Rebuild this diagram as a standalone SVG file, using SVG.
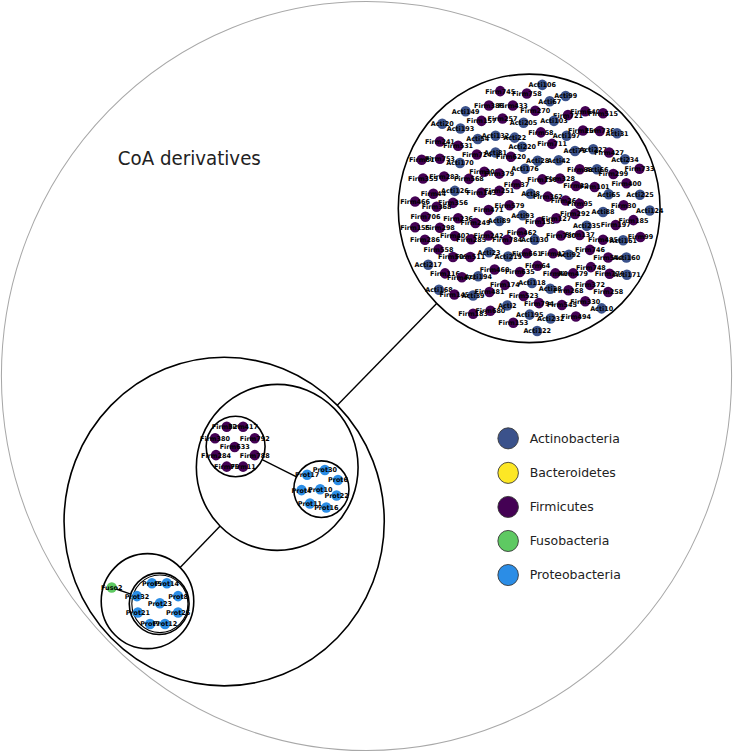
<svg xmlns="http://www.w3.org/2000/svg" width="733" height="752" viewBox="0 0 733 752">
<style>
.bg{fill:#ffffff}
.outer{fill:none;stroke:#a8a8a8;stroke-width:2.2}
.cl{fill:none;stroke:#000;stroke-width:3.4}
.e{stroke:#000;stroke-width:3;fill:none}
.a{fill:#3b528b}
.f{fill:#440154}
.p{fill:#2b8de6}
.u{fill:#5ec962}
.y{fill:#fde725}
.n text{font-family:"DejaVu Sans","Liberation Sans",sans-serif;font-weight:bold;font-size:13.8px;text-anchor:middle;fill:#000}
.lg circle{stroke:#333;stroke-width:1.8}
.lg text{font-family:"DejaVu Sans","Liberation Sans",sans-serif;font-size:26.7px;fill:#222}
.title{font-family:"DejaVu Sans","Liberation Sans",sans-serif;font-size:39px;fill:#222}
</style>
<defs>
<circle id="nd" r="11"/>
</defs>
<rect class="bg" x="0" y="0" width="733" height="752"/>
<g transform="scale(0.467474,0.479592)">
<circle class="outer" cx="784" cy="784" r="781"/>
<text class="title" x="252" y="344">CoA derivatives</text>
<g id="clusters">
<circle class="cl" cx="1132" cy="434.5" r="280"/>
<circle class="cl" cx="479.5" cy="1087.5" r="342.5"/>
<circle class="cl" cx="593" cy="974.5" r="173"/>
<circle class="cl" cx="504" cy="931" r="63"/>
<circle class="cl" cx="687.5" cy="1020" r="59"/>
<circle class="cl" cx="315.5" cy="1253.5" r="99"/>
<circle class="cl" cx="340.5" cy="1259" r="64"/>
<circle class="cl" cx="342" cy="1259" r="60" style="stroke-width:2.4"/>
</g>
<g id="connectors">
<line class="e" x1="934" y1="633" x2="721.5" y2="845"/>
<line class="e" x1="471" y1="1097" x2="385.3" y2="1183.3"/>
<line class="e" x1="560.7" y1="958.5" x2="634.4" y2="994.3"/>
<line class="e" x1="239" y1="1225" x2="279.8" y2="1238.7"/>
</g>
<g id="nodes">
<g id="n-Acti106" class="n" transform="translate(1160,177)"><use href="#nd" class="a"/><text dy="5">Acti106</text></g>
<g id="n-Firm745" class="n" transform="translate(1070,190)"><use href="#nd" class="f"/><text dy="5">Firm745</text></g>
<g id="n-Firm758" class="n" transform="translate(1127,195)"><use href="#nd" class="f"/><text dy="5">Firm758</text></g>
<g id="n-Acti67" class="n" transform="translate(1176,211)"><use href="#nd" class="a"/><text dy="5">Acti67</text></g>
<g id="n-Acti99" class="n" transform="translate(1210,200)"><use href="#nd" class="a"/><text dy="5">Acti99</text></g>
<g id="n-Firm388" class="n" transform="translate(1046,220)"><use href="#nd" class="f"/><text dy="5">Firm388</text></g>
<g id="n-Firm433" class="n" transform="translate(1097,220)"><use href="#nd" class="f"/><text dy="5">Firm433</text></g>
<g id="n-Firm270" class="n" transform="translate(1145,231)"><use href="#nd" class="f"/><text dy="5">Firm270</text></g>
<g id="n-Acti149" class="n" transform="translate(996,232)"><use href="#nd" class="a"/><text dy="5">Acti149</text></g>
<g id="n-Firm721" class="n" transform="translate(1215,240)"><use href="#nd" class="f"/><text dy="5">Firm721</text></g>
<g id="n-Firm640" class="n" transform="translate(1252,232)"><use href="#nd" class="f"/><text dy="5">Firm640</text></g>
<g id="n-Firm515" class="n" transform="translate(1290,236)"><use href="#nd" class="f"/><text dy="5">Firm515</text></g>
<g id="n-Firm157" class="n" transform="translate(1030,252)"><use href="#nd" class="f"/><text dy="5">Firm157</text></g>
<g id="n-Firm257" class="n" transform="translate(1075,247)"><use href="#nd" class="f"/><text dy="5">Firm257</text></g>
<g id="n-Acti205" class="n" transform="translate(1120,256)"><use href="#nd" class="a"/><text dy="5">Acti205</text></g>
<g id="n-Acti103" class="n" transform="translate(1185,252)"><use href="#nd" class="a"/><text dy="5">Acti103</text></g>
<g id="n-Acti20" class="n" transform="translate(946,258)"><use href="#nd" class="a"/><text dy="5">Acti20</text></g>
<g id="n-Acti193" class="n" transform="translate(985,268)"><use href="#nd" class="a"/><text dy="5">Acti193</text></g>
<g id="n-Firm58" class="n" transform="translate(1157,276)"><use href="#nd" class="f"/><text dy="5">Firm58</text></g>
<g id="n-Acti197" class="n" transform="translate(1212,283)"><use href="#nd" class="a"/><text dy="5">Acti197</text></g>
<g id="n-Firm256" class="n" transform="translate(1247,272)"><use href="#nd" class="f"/><text dy="5">Firm256</text></g>
<g id="n-Firm736" class="n" transform="translate(1283,273)"><use href="#nd" class="f"/><text dy="5">Firm736</text></g>
<g id="n-Acti31" class="n" transform="translate(1320,278)"><use href="#nd" class="a"/><text dy="5">Acti31</text></g>
<g id="n-Acti54" class="n" transform="translate(1022,290)"><use href="#nd" class="a"/><text dy="5">Acti54</text></g>
<g id="n-Acti132" class="n" transform="translate(1060,283)"><use href="#nd" class="a"/><text dy="5">Acti132</text></g>
<g id="n-Acti22" class="n" transform="translate(1101,287)"><use href="#nd" class="a"/><text dy="5">Acti22</text></g>
<g id="n-Firm241" class="n" transform="translate(941,295)"><use href="#nd" class="f"/><text dy="5">Firm241</text></g>
<g id="n-Firm531" class="n" transform="translate(980,304)"><use href="#nd" class="f"/><text dy="5">Firm531</text></g>
<g id="n-Acti220" class="n" transform="translate(1117,306)"><use href="#nd" class="a"/><text dy="5">Acti220</text></g>
<g id="n-Firm711" class="n" transform="translate(1181,300)"><use href="#nd" class="f"/><text dy="5">Firm711</text></g>
<g id="n-Acti79" class="n" transform="translate(1230,315)"><use href="#nd" class="a"/><text dy="5">Acti79</text></g>
<g id="n-Acti227" class="n" transform="translate(1269,311)"><use href="#nd" class="a"/><text dy="5">Acti227</text></g>
<g id="n-Firm427" class="n" transform="translate(1303,318)"><use href="#nd" class="f"/><text dy="5">Firm427</text></g>
<g id="n-Acti234" class="n" transform="translate(1337,332)"><use href="#nd" class="a"/><text dy="5">Acti234</text></g>
<g id="n-Firm724" class="n" transform="translate(1020,322)"><use href="#nd" class="f"/><text dy="5">Firm724</text></g>
<g id="n-Acti81" class="n" transform="translate(1060,318)"><use href="#nd" class="a"/><text dy="5">Acti81</text></g>
<g id="n-Firm620" class="n" transform="translate(1093,327)"><use href="#nd" class="f"/><text dy="5">Firm620</text></g>
<g id="n-Acti28" class="n" transform="translate(1150,335)"><use href="#nd" class="a"/><text dy="5">Acti28</text></g>
<g id="n-Acti42" class="n" transform="translate(1195,334)"><use href="#nd" class="a"/><text dy="5">Acti42</text></g>
<g id="n-Firm81" class="n" transform="translate(902,333)"><use href="#nd" class="f"/><text dy="5">Firm81</text></g>
<g id="n-Firm753" class="n" transform="translate(941,331)"><use href="#nd" class="f"/><text dy="5">Firm753</text></g>
<g id="n-Acti170" class="n" transform="translate(984,340)"><use href="#nd" class="a"/><text dy="5">Acti170</text></g>
<g id="n-Acti176" class="n" transform="translate(1123,352)"><use href="#nd" class="a"/><text dy="5">Acti176</text></g>
<g id="n-Firm88" class="n" transform="translate(1240,353)"><use href="#nd" class="f"/><text dy="5">Firm88</text></g>
<g id="n-Acti66" class="n" transform="translate(1277,353)"><use href="#nd" class="a"/><text dy="5">Acti66</text></g>
<g id="n-Firm733" class="n" transform="translate(1368,352)"><use href="#nd" class="f"/><text dy="5">Firm733</text></g>
<g id="n-Firm299" class="n" transform="translate(1312,363)"><use href="#nd" class="f"/><text dy="5">Firm299</text></g>
<g id="n-Firm355" class="n" transform="translate(905,372)"><use href="#nd" class="f"/><text dy="5">Firm355</text></g>
<g id="n-Firm283" class="n" transform="translate(950,368)"><use href="#nd" class="f"/><text dy="5">Firm283</text></g>
<g id="n-Firm568" class="n" transform="translate(1003,373)"><use href="#nd" class="f"/><text dy="5">Firm568</text></g>
<g id="n-Firm309" class="n" transform="translate(1036,358)"><use href="#nd" class="f"/><text dy="5">Firm309</text></g>
<g id="n-Firm379" class="n" transform="translate(1068,362)"><use href="#nd" class="f"/><text dy="5">Firm379</text></g>
<g id="n-Firm156" class="n" transform="translate(1160,374)"><use href="#nd" class="f"/><text dy="5">Firm156</text></g>
<g id="n-Firm328" class="n" transform="translate(1198,372)"><use href="#nd" class="f"/><text dy="5">Firm328</text></g>
<g id="n-Firm37" class="n" transform="translate(1105,384)"><use href="#nd" class="f"/><text dy="5">Firm37</text></g>
<g id="n-Firm400" class="n" transform="translate(1340,382)"><use href="#nd" class="f"/><text dy="5">Firm400</text></g>
<g id="n-Firm32" class="n" transform="translate(1232,388)"><use href="#nd" class="f"/><text dy="5">Firm32</text></g>
<g id="n-Firm101" class="n" transform="translate(1272,390)"><use href="#nd" class="f"/><text dy="5">Firm101</text></g>
<g id="n-Acti126" class="n" transform="translate(973,398)"><use href="#nd" class="a"/><text dy="5">Acti126</text></g>
<g id="n-Firm44" class="n" transform="translate(927,404)"><use href="#nd" class="f"/><text dy="5">Firm44</text></g>
<g id="n-Firm143" class="n" transform="translate(1030,402)"><use href="#nd" class="f"/><text dy="5">Firm143</text></g>
<g id="n-Firm251" class="n" transform="translate(1068,398)"><use href="#nd" class="f"/><text dy="5">Firm251</text></g>
<g id="n-Acti8" class="n" transform="translate(1135,404)"><use href="#nd" class="a"/><text dy="5">Acti8</text></g>
<g id="n-Firm362" class="n" transform="translate(1172,410)"><use href="#nd" class="f"/><text dy="5">Firm362</text></g>
<g id="n-Firm264" class="n" transform="translate(1210,418)"><use href="#nd" class="f"/><text dy="5">Firm264</text></g>
<g id="n-Acti65" class="n" transform="translate(1302,405)"><use href="#nd" class="a"/><text dy="5">Acti65</text></g>
<g id="n-Acti225" class="n" transform="translate(1369,406)"><use href="#nd" class="a"/><text dy="5">Acti225</text></g>
<g id="n-Firm466" class="n" transform="translate(888,420)"><use href="#nd" class="f"/><text dy="5">Firm466</text></g>
<g id="n-Firm356" class="n" transform="translate(969,423)"><use href="#nd" class="f"/><text dy="5">Firm356</text></g>
<g id="n-Firm368" class="n" transform="translate(934,431)"><use href="#nd" class="f"/><text dy="5">Firm368</text></g>
<g id="n-Firm471" class="n" transform="translate(1045,438)"><use href="#nd" class="f"/><text dy="5">Firm471</text></g>
<g id="n-Firm579" class="n" transform="translate(1090,428)"><use href="#nd" class="f"/><text dy="5">Firm579</text></g>
<g id="n-Firm95" class="n" transform="translate(1240,425)"><use href="#nd" class="f"/><text dy="5">Firm95</text></g>
<g id="n-Firm30" class="n" transform="translate(1334,428)"><use href="#nd" class="f"/><text dy="5">Firm30</text></g>
<g id="n-Acti124" class="n" transform="translate(1390,439)"><use href="#nd" class="a"/><text dy="5">Acti124</text></g>
<g id="n-Acti88" class="n" transform="translate(1290,442)"><use href="#nd" class="a"/><text dy="5">Acti88</text></g>
<g id="n-Firm706" class="n" transform="translate(910,452)"><use href="#nd" class="f"/><text dy="5">Firm706</text></g>
<g id="n-Firm236" class="n" transform="translate(980,455)"><use href="#nd" class="f"/><text dy="5">Firm236</text></g>
<g id="n-Firm249" class="n" transform="translate(1017,465)"><use href="#nd" class="f"/><text dy="5">Firm249</text></g>
<g id="n-Acti89" class="n" transform="translate(1068,461)"><use href="#nd" class="a"/><text dy="5">Acti89</text></g>
<g id="n-Acti93" class="n" transform="translate(1118,449)"><use href="#nd" class="a"/><text dy="5">Acti93</text></g>
<g id="n-Firm158" class="n" transform="translate(1155,463)"><use href="#nd" class="f"/><text dy="5">Firm158</text></g>
<g id="n-Firm127" class="n" transform="translate(1190,455)"><use href="#nd" class="f"/><text dy="5">Firm127</text></g>
<g id="n-Firm292" class="n" transform="translate(1230,446)"><use href="#nd" class="f"/><text dy="5">Firm292</text></g>
<g id="n-Acti235" class="n" transform="translate(1255,471)"><use href="#nd" class="a"/><text dy="5">Acti235</text></g>
<g id="n-Firm197" class="n" transform="translate(1317,469)"><use href="#nd" class="f"/><text dy="5">Firm197</text></g>
<g id="n-Firm185" class="n" transform="translate(1355,459)"><use href="#nd" class="f"/><text dy="5">Firm185</text></g>
<g id="n-Firm155" class="n" transform="translate(888,474)"><use href="#nd" class="f"/><text dy="5">Firm155</text></g>
<g id="n-Firm298" class="n" transform="translate(941,475)"><use href="#nd" class="f"/><text dy="5">Firm298</text></g>
<g id="n-Firm462" class="n" transform="translate(1116,485)"><use href="#nd" class="f"/><text dy="5">Firm462</text></g>
<g id="n-Firm780" class="n" transform="translate(1200,491)"><use href="#nd" class="f"/><text dy="5">Firm780</text></g>
<g id="n-Firm137" class="n" transform="translate(1240,490)"><use href="#nd" class="f"/><text dy="5">Firm137</text></g>
<g id="n-Firm99" class="n" transform="translate(1370,494)"><use href="#nd" class="f"/><text dy="5">Firm99</text></g>
<g id="n-Firm286" class="n" transform="translate(909,500)"><use href="#nd" class="f"/><text dy="5">Firm286</text></g>
<g id="n-Firm402" class="n" transform="translate(973,492)"><use href="#nd" class="f"/><text dy="5">Firm402</text></g>
<g id="n-Firm285" class="n" transform="translate(1008,499)"><use href="#nd" class="f"/><text dy="5">Firm285</text></g>
<g id="n-Firm242" class="n" transform="translate(1045,491)"><use href="#nd" class="f"/><text dy="5">Firm242</text></g>
<g id="n-Firm784" class="n" transform="translate(1085,500)"><use href="#nd" class="f"/><text dy="5">Firm784</text></g>
<g id="n-Acti130" class="n" transform="translate(1144,500)"><use href="#nd" class="a"/><text dy="5">Acti130</text></g>
<g id="n-Firm485" class="n" transform="translate(1290,500)"><use href="#nd" class="f"/><text dy="5">Firm485</text></g>
<g id="n-Acti161" class="n" transform="translate(1333,501)"><use href="#nd" class="a"/><text dy="5">Acti161</text></g>
<g id="n-Firm558" class="n" transform="translate(938,520)"><use href="#nd" class="f"/><text dy="5">Firm558</text></g>
<g id="n-Firm509" class="n" transform="translate(969,536)"><use href="#nd" class="f"/><text dy="5">Firm509</text></g>
<g id="n-Firm511" class="n" transform="translate(1006,536)"><use href="#nd" class="f"/><text dy="5">Firm511</text></g>
<g id="n-Acti23" class="n" transform="translate(1046,526)"><use href="#nd" class="a"/><text dy="5">Acti23</text></g>
<g id="n-Acti219" class="n" transform="translate(1087,535)"><use href="#nd" class="a"/><text dy="5">Acti219</text></g>
<g id="n-Firm661" class="n" transform="translate(1127,528)"><use href="#nd" class="f"/><text dy="5">Firm661</text></g>
<g id="n-Firm42" class="n" transform="translate(1183,528)"><use href="#nd" class="f"/><text dy="5">Firm42</text></g>
<g id="n-Acti92" class="n" transform="translate(1217,531)"><use href="#nd" class="a"/><text dy="5">Acti92</text></g>
<g id="n-Firm746" class="n" transform="translate(1262,521)"><use href="#nd" class="f"/><text dy="5">Firm746</text></g>
<g id="n-Firm544" class="n" transform="translate(1301,537)"><use href="#nd" class="f"/><text dy="5">Firm544</text></g>
<g id="n-Acti160" class="n" transform="translate(1340,537)"><use href="#nd" class="a"/><text dy="5">Acti160</text></g>
<g id="n-Acti217" class="n" transform="translate(916,552)"><use href="#nd" class="a"/><text dy="5">Acti217</text></g>
<g id="n-Firm64" class="n" transform="translate(1150,554)"><use href="#nd" class="f"/><text dy="5">Firm64</text></g>
<g id="n-Firm635" class="n" transform="translate(1112,567)"><use href="#nd" class="f"/><text dy="5">Firm635</text></g>
<g id="n-Firm460" class="n" transform="translate(1058,562)"><use href="#nd" class="f"/><text dy="5">Firm460</text></g>
<g id="n-Firm40" class="n" transform="translate(1188,570)"><use href="#nd" class="f"/><text dy="5">Firm40</text></g>
<g id="n-Firm479" class="n" transform="translate(1226,570)"><use href="#nd" class="f"/><text dy="5">Firm479</text></g>
<g id="n-Firm748" class="n" transform="translate(1264,557)"><use href="#nd" class="f"/><text dy="5">Firm748</text></g>
<g id="n-Firm776" class="n" transform="translate(1304,571)"><use href="#nd" class="f"/><text dy="5">Firm776</text></g>
<g id="n-Acti171" class="n" transform="translate(1341,573)"><use href="#nd" class="a"/><text dy="5">Acti171</text></g>
<g id="n-Firm116" class="n" transform="translate(952,570)"><use href="#nd" class="f"/><text dy="5">Firm116</text></g>
<g id="n-Firm476" class="n" transform="translate(988,578)"><use href="#nd" class="f"/><text dy="5">Firm476</text></g>
<g id="n-Acti194" class="n" transform="translate(1023,576)"><use href="#nd" class="a"/><text dy="5">Acti194</text></g>
<g id="n-Firm174" class="n" transform="translate(1080,594)"><use href="#nd" class="f"/><text dy="5">Firm174</text></g>
<g id="n-Acti118" class="n" transform="translate(1138,590)"><use href="#nd" class="a"/><text dy="5">Acti118</text></g>
<g id="n-Acti38" class="n" transform="translate(1177,602)"><use href="#nd" class="a"/><text dy="5">Acti38</text></g>
<g id="n-Firm268" class="n" transform="translate(1216,605)"><use href="#nd" class="f"/><text dy="5">Firm268</text></g>
<g id="n-Firm372" class="n" transform="translate(1262,594)"><use href="#nd" class="f"/><text dy="5">Firm372</text></g>
<g id="n-Firm258" class="n" transform="translate(1301,609)"><use href="#nd" class="f"/><text dy="5">Firm258</text></g>
<g id="n-Acti168" class="n" transform="translate(939,604)"><use href="#nd" class="a"/><text dy="5">Acti168</text></g>
<g id="n-Firm145" class="n" transform="translate(972,614)"><use href="#nd" class="f"/><text dy="5">Firm145</text></g>
<g id="n-Acti39" class="n" transform="translate(1012,616)"><use href="#nd" class="a"/><text dy="5">Acti39</text></g>
<g id="n-Firm481" class="n" transform="translate(1047,609)"><use href="#nd" class="f"/><text dy="5">Firm481</text></g>
<g id="n-Firm523" class="n" transform="translate(1120,617)"><use href="#nd" class="f"/><text dy="5">Firm523</text></g>
<g id="n-Acti2" class="n" transform="translate(1085,637)"><use href="#nd" class="a"/><text dy="5">Acti2</text></g>
<g id="n-Firm794" class="n" transform="translate(1153,632)"><use href="#nd" class="f"/><text dy="5">Firm794</text></g>
<g id="n-Firm545" class="n" transform="translate(1202,636)"><use href="#nd" class="f"/><text dy="5">Firm545</text></g>
<g id="n-Firm330" class="n" transform="translate(1252,628)"><use href="#nd" class="f"/><text dy="5">Firm330</text></g>
<g id="n-Acti10" class="n" transform="translate(1287,643)"><use href="#nd" class="a"/><text dy="5">Acti10</text></g>
<g id="n-Firm183" class="n" transform="translate(1012,654)"><use href="#nd" class="f"/><text dy="5">Firm183</text></g>
<g id="n-Firm680" class="n" transform="translate(1049,648)"><use href="#nd" class="f"/><text dy="5">Firm680</text></g>
<g id="n-Acti195" class="n" transform="translate(1133,656)"><use href="#nd" class="a"/><text dy="5">Acti195</text></g>
<g id="n-Acti232" class="n" transform="translate(1178,664)"><use href="#nd" class="a"/><text dy="5">Acti232</text></g>
<g id="n-Firm494" class="n" transform="translate(1232,660)"><use href="#nd" class="f"/><text dy="5">Firm494</text></g>
<g id="n-Firm153" class="n" transform="translate(1098,673)"><use href="#nd" class="f"/><text dy="5">Firm153</text></g>
<g id="n-Acti122" class="n" transform="translate(1149,690)"><use href="#nd" class="a"/><text dy="5">Acti122</text></g>

<g id="n-Firm320" class="n" transform="translate(485,890)"><use href="#nd" class="f"/><text dy="5">Firm320</text></g>
<g id="n-Firm417" class="n" transform="translate(520,890)"><use href="#nd" class="f"/><text dy="5">Firm417</text></g>
<g id="n-Firm380" class="n" transform="translate(460,914)"><use href="#nd" class="f"/><text dy="5">Firm380</text></g>
<g id="n-Firm792" class="n" transform="translate(545,914)"><use href="#nd" class="f"/><text dy="5">Firm792</text></g>
<g id="n-Firm633" class="n" transform="translate(502,932)"><use href="#nd" class="f"/><text dy="5">Firm633</text></g>
<g id="n-Firm284" class="n" transform="translate(462,949)"><use href="#nd" class="f"/><text dy="5">Firm284</text></g>
<g id="n-Firm788" class="n" transform="translate(545,949)"><use href="#nd" class="f"/><text dy="5">Firm788</text></g>
<g id="n-Firm79" class="n" transform="translate(485,973)"><use href="#nd" class="f"/><text dy="5">Firm79</text></g>
<g id="n-Firm11" class="n" transform="translate(520,973)"><use href="#nd" class="f"/><text dy="5">Firm11</text></g>

<g id="n-Prot30" class="n" transform="translate(695,980)"><use href="#nd" class="p"/><text dy="5">Prot30</text></g>
<g id="n-Prot17" class="n" transform="translate(657,990)"><use href="#nd" class="p"/><text dy="5">Prot17</text></g>
<g id="n-Prot6" class="n" transform="translate(723,1001)"><use href="#nd" class="p"/><text dy="5">Prot6</text></g>
<g id="n-Prot4" class="n" transform="translate(645,1022)"><use href="#nd" class="p"/><text dy="5">Prot4</text></g>
<g id="n-Prot10" class="n" transform="translate(685,1020)"><use href="#nd" class="p"/><text dy="5">Prot10</text></g>
<g id="n-Prot22" class="n" transform="translate(720,1033)"><use href="#nd" class="p"/><text dy="5">Prot22</text></g>
<g id="n-Prot11" class="n" transform="translate(663,1050)"><use href="#nd" class="p"/><text dy="5">Prot11</text></g>
<g id="n-Prot16" class="n" transform="translate(698,1058)"><use href="#nd" class="p"/><text dy="5">Prot16</text></g>

<g id="n-Fuso2" class="n" transform="translate(239,1225)"><use href="#nd" class="u"/><text dy="5">Fuso2</text></g>
<g id="n-Prot5" class="n" transform="translate(325,1216)"><use href="#nd" class="p"/><text dy="5">Prot5</text></g>
<g id="n-Prot14" class="n" transform="translate(357,1216)"><use href="#nd" class="p"/><text dy="5">Prot14</text></g>
<g id="n-Prot32" class="n" transform="translate(293,1243)"><use href="#nd" class="p"/><text dy="5">Prot32</text></g>
<g id="n-Prot8" class="n" transform="translate(381,1243)"><use href="#nd" class="p"/><text dy="5">Prot8</text></g>
<g id="n-Prot23" class="n" transform="translate(342,1258)"><use href="#nd" class="p"/><text dy="5">Prot23</text></g>
<g id="n-Prot21" class="n" transform="translate(295,1277)"><use href="#nd" class="p"/><text dy="5">Prot21</text></g>
<g id="n-Prot25" class="n" transform="translate(381,1277)"><use href="#nd" class="p"/><text dy="5">Prot25</text></g>
<g id="n-Prot7" class="n" transform="translate(321,1301)"><use href="#nd" class="p"/><text dy="5">Prot7</text></g>
<g id="n-Prot12" class="n" transform="translate(353,1301)"><use href="#nd" class="p"/><text dy="5">Prot12</text></g>
</g>
<g id="legend" class="lg">
<circle class="a" cx="1087" cy="914" r="22"/><text x="1133" y="923">Actinobacteria</text>
<circle class="y" cx="1087" cy="986" r="22"/><text x="1133" y="995">Bacteroidetes</text>
<circle class="f" cx="1087" cy="1057" r="22"/><text x="1133" y="1066">Firmicutes</text>
<circle class="u" cx="1087" cy="1128" r="22"/><text x="1133" y="1137">Fusobacteria</text>
<circle class="p" cx="1087" cy="1199" r="22"/><text x="1133" y="1208">Proteobacteria</text>
</g>
</g>
</svg>
